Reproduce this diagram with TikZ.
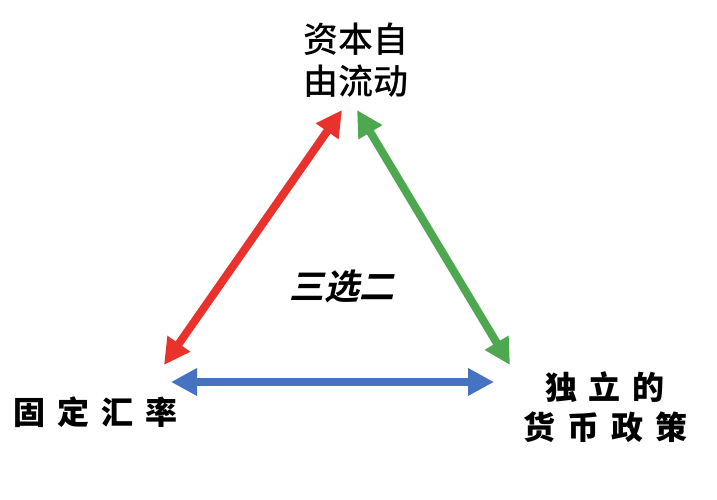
\documentclass[tikz,border=0pt]{standalone}
\usepackage{fontspec}
\usetikzlibrary{arrows.meta}
\newfontfamily\cjk{Noto Sans CJK SC Medium}
\newfontfamily\cjkblk{Noto Sans CJK SC Black}
\newfontfamily\cjkit[FakeSlant=0.22]{Noto Sans CJK SC Bold}
\definecolor{ared}{HTML}{E8322B}
\definecolor{agreen}{HTML}{4DA84F}
\definecolor{ablue}{HTML}{4672C2}
\begin{document}
\begin{tikzpicture}[x=1pt,y=-1pt,
  lab/.style={inner sep=0pt,align=center,text=black},
  dblarrow/.style={line width=8pt,{Triangle[length=26pt,width=26pt]}-{Triangle[length=26pt,width=26pt]}}]
\useasboundingbox (0,0) rectangle (717,500);
\node[lab,font={\cjk\fontsize{35}{42}\selectfont}] (top) at (356,60) {资本自\\由流动};
\node[lab,font={\cjkblk\fontsize{32}{40}\selectfont}] (left) at (95,412) {固\hspace{12pt}定\hspace{12pt}汇\hspace{12pt}率};
\node[lab,font={\cjkblk\fontsize{32}{40}\selectfont}] (right) at (605,407) {独\hspace{12pt}立\hspace{12pt}的\\货\hspace{12pt}币\hspace{12pt}政\hspace{12pt}策};
\node[lab,font={\cjkit\fontsize{35}{40}\selectfont}] (mid) at (342,286) {三选二};
\coordinate (rt) at (342,110);
\coordinate (rb) at (164,365);
\coordinate (gt) at (357,110);
\coordinate (gb) at (510,365);
\coordinate (bl) at (171,382);
\coordinate (br) at (494,382);
\draw[dblarrow,ared] (rb) -- (rt);
\draw[dblarrow,agreen] (gt) -- (gb);
\draw[dblarrow,ablue] (bl) -- (br);
\end{tikzpicture}
\end{document}
